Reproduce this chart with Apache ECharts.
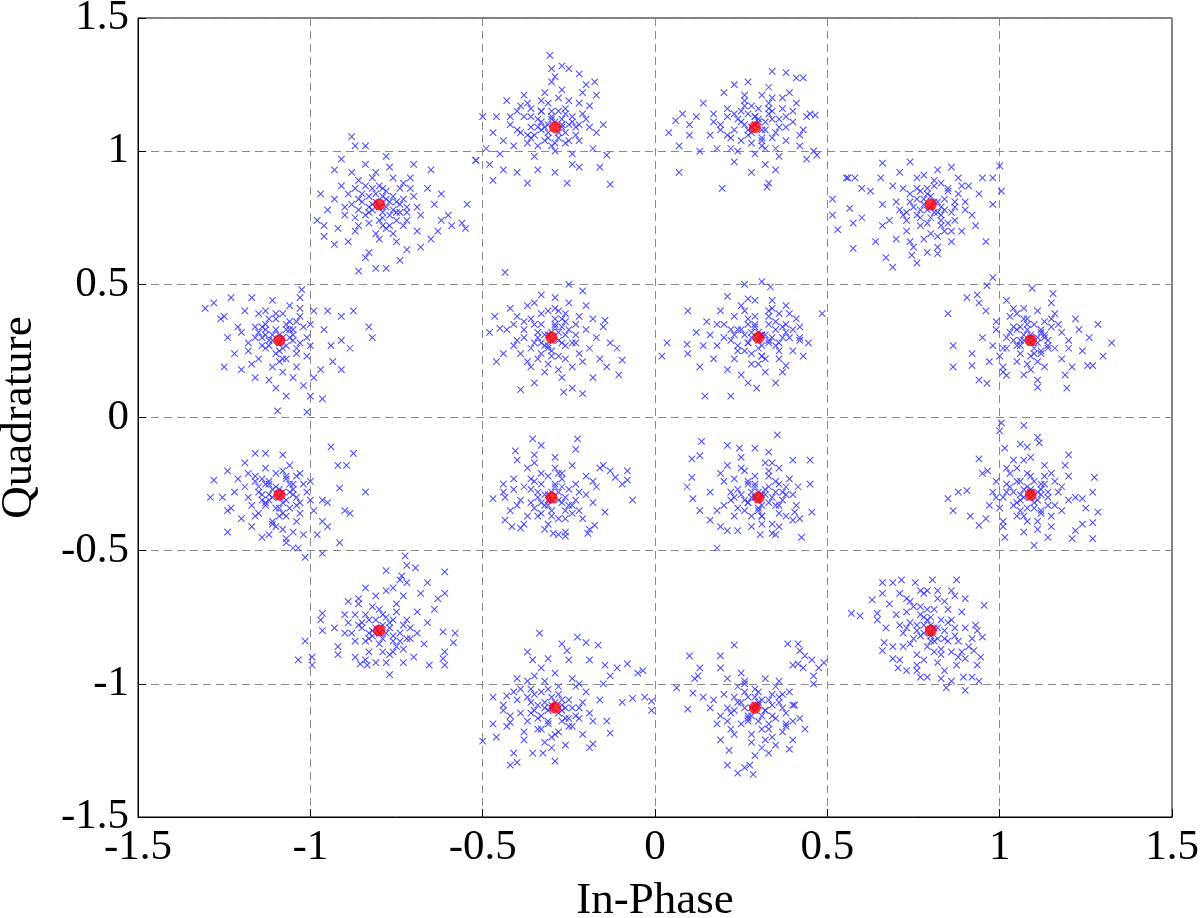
<!DOCTYPE html>
<html>
<head>
<meta charset="utf-8">
<script src="https://cdn.jsdelivr.net/npm/echarts@6/dist/echarts.min.js"></script>
<style>
html,body{margin:0;padding:0;background:#fff;}
#chart{width:1200px;height:918px;}
</style>
</head>
<body>
<div id="chart"></div>
<script>
// Ideal constellation points (red dots)
const idealPoints = [
  [-0.80,0.80],[-0.29,1.09],[0.29,1.09],[0.80,0.80],
  [-1.09,0.29],[-0.30,0.30],[0.30,0.30],[1.09,0.29],
  [-1.09,-0.29],[-0.30,-0.30],[0.30,-0.30],[1.09,-0.29],
  [-0.80,-0.80],[-0.29,-1.09],[0.29,-1.09],[0.80,-0.80]
];

// Received noisy samples, one flat [x,y,x,y,...] list per cluster
const clusterUL = [-0.79,0.83,-0.82,0.78,-0.75,0.81,-0.85,0.84,-0.77,0.76,-0.72,0.79,-0.88,0.80,-0.80,0.87,-0.83,0.73,-0.74,0.86,-0.90,0.76,-0.86,0.89,-0.70,0.83,-0.78,0.71,-0.93,0.82,-0.81,0.92,-0.76,0.90,-0.68,0.76,-0.87,0.70,-0.73,0.72,-0.84,0.95,-0.77,0.94,-0.91,0.87,-0.95,0.78,-0.80,0.67,-0.71,0.90,-0.66,0.86,-0.89,0.66,-0.75,0.66,-0.83,0.62,-0.96,0.72,-0.69,0.70,-0.64,0.80,-0.86,0.78,-0.79,0.75,-0.82,0.86,-0.74,0.77,-0.88,0.92,-0.93,0.93,-0.70,0.95,-0.65,0.93,
  -0.62,0.74,-0.59,0.72,-0.56,0.73,-0.55,0.71,-0.60,0.76,-0.63,0.70,-0.545,0.80,-0.52,0.965,-0.98,0.74,-0.96,0.68,-0.93,0.65,-0.88,1.055,-0.87,1.02,-0.84,1.02,-0.91,0.97,-0.78,0.98,-0.86,0.55,-0.81,0.56,-0.78,0.56,-0.84,0.60,-0.74,0.59,-0.72,0.63,-0.68,0.64,-0.65,0.67,-0.62,0.84,-0.97,0.84,
  -0.81,0.81,-0.78,0.79,-0.83,0.77,-0.76,0.83,-0.80,0.74,-0.85,0.81,-0.74,0.80,-0.79,0.86,-0.87,0.75,-0.72,0.74,-0.82,0.90,-0.77,0.72,-0.84,0.87,-0.71,0.86,-0.89,0.84,-0.75,0.77,-0.86,0.72,-0.78,0.82,-0.81,0.69,-0.73,0.88,-0.90,0.79,-0.69,0.79,-0.83,0.83,-0.76,0.69,-0.92,0.71,
  -0.80,0.79,-0.77,0.81,-0.82,0.80,-0.79,0.77,-0.84,0.76,-0.76,0.78,-0.81,0.84,-0.78,0.85,-0.86,0.82,-0.73,0.82,-0.83,0.79,-0.79,0.72,-0.75,0.74,-0.87,0.86,-0.72,0.77];
const clusterTL = [-0.30,1.12,-0.33,1.08,-0.26,1.14,-0.36,1.13,-0.28,1.05,-0.23,1.09,-0.39,1.07,-0.31,1.18,-0.34,1.02,-0.25,1.19,-0.42,1.10,-0.20,1.12,-0.37,1.18,-0.29,1.00,-0.44,1.04,-0.22,1.04,-0.32,1.22,-0.27,1.23,-0.40,1.15,-0.19,1.17,-0.45,0.99,-0.35,0.98,-0.24,0.99,-0.41,1.02,-0.38,1.21,-0.17,1.07,-0.47,1.07,-0.33,1.15,-0.27,1.09,-0.21,1.22,-0.43,1.19,-0.18,1.01,-0.30,1.26,-0.49,1.01,-0.36,1.05,-0.26,1.03,-0.15,1.10,
  -0.305,1.36,-0.30,1.31,-0.27,1.32,-0.25,1.31,-0.29,1.28,-0.175,1.26,-0.20,1.25,-0.22,1.29,-0.52,0.965,-0.50,1.13,-0.47,0.89,-0.44,0.93,-0.37,0.88,-0.34,0.93,-0.255,0.88,-0.29,0.92,-0.13,0.875,-0.16,0.94,-0.14,0.985,-0.48,0.95,-0.40,0.92,-0.22,0.94,-0.17,1.21,-0.46,1.13,-0.24,0.95,
  -0.31,1.10,-0.28,1.07,-0.33,1.11,-0.25,1.10,-0.30,1.15,-0.35,1.06,-0.26,1.16,-0.32,1.04,-0.23,1.06,-0.38,1.13,-0.28,1.20,-0.36,1.16,-0.21,1.14,-0.34,1.09,-0.40,1.08,-0.24,1.13,-0.29,1.03,-0.37,1.03,-0.19,1.09,-0.27,1.12,-0.33,1.19,-0.42,1.13,-0.22,1.18,-0.39,1.17,-0.31,1.07,
  -0.29,1.11,-0.27,1.10,-0.32,1.09,-0.30,1.13,-0.26,1.07,-0.34,1.12,-0.31,1.05,-0.24,1.11,-0.36,1.09,-0.28,1.15,-0.33,1.15,-0.25,1.04,-0.37,1.06,-0.22,1.10,-0.30,1.02];
const clusterTR = [0.30,1.12,0.27,1.08,0.33,1.14,0.24,1.12,0.35,1.07,0.28,1.17,0.22,1.05,0.37,1.16,0.31,1.02,0.19,1.10,0.40,1.11,0.26,1.21,0.34,1.20,0.21,1.16,0.38,1.04,0.17,1.14,0.29,0.99,0.43,1.08,0.33,1.24,0.24,1.00,0.41,1.18,0.16,1.06,0.36,0.98,0.27,1.26,0.20,1.22,0.44,1.13,0.31,1.05,0.25,1.15,0.32,0.95,0.39,1.22,0.14,1.18,0.23,0.96,0.42,1.02,0.29,1.13,0.18,1.01,
  0.04,1.07,0.06,1.115,0.07,1.02,0.10,1.10,0.10,1.06,0.12,1.13,0.08,1.14,0.07,0.92,0.13,1.00,0.34,1.30,0.38,1.295,0.41,1.275,0.43,1.275,0.195,0.86,0.325,0.865,0.33,0.88,0.47,0.985,0.46,1.00,0.465,1.135,0.45,1.14,0.23,1.25,0.28,0.92,0.35,0.93,0.44,0.97,
  0.29,1.10,0.32,1.11,0.26,1.10,0.31,1.08,0.27,1.14,0.34,1.05,0.23,1.08,0.36,1.12,0.30,1.16,0.25,1.04,0.38,1.09,0.21,1.13,0.33,1.18,0.28,1.03,0.40,1.15,0.19,1.08,0.35,1.01,0.26,1.19,0.42,1.06,0.31,1.21,0.22,1.01,0.37,1.20,0.17,1.11,0.28,1.07,0.34,1.15,
  0.30,1.11,0.28,1.09,0.32,1.08,0.29,1.13,0.25,1.11,0.34,1.12,0.27,1.06,0.33,1.16,0.31,1.04,0.23,1.14,0.36,1.09,0.26,1.17,0.38,1.13,0.21,1.06,0.32,1.01];
const clusterUR = [0.80,0.83,0.77,0.78,0.83,0.79,0.74,0.84,0.85,0.86,0.79,0.73,0.72,0.76,0.87,0.74,0.81,0.89,0.76,0.90,0.90,0.81,0.70,0.81,0.84,0.70,0.78,0.67,0.73,0.70,0.88,0.90,0.92,0.76,0.69,0.87,0.82,0.93,0.75,0.64,0.86,0.66,0.91,0.87,0.71,0.92,0.94,0.84,0.79,0.62,0.68,0.74,0.89,0.70,0.74,0.96,0.83,0.76,0.77,0.85,0.93,0.72,0.70,0.67,0.86,0.94,0.80,0.69,0.66,0.80,
  0.515,0.82,0.515,0.76,0.53,0.705,0.565,0.785,0.575,0.73,0.575,0.635,0.60,0.75,0.66,0.72,0.56,0.90,0.58,0.90,0.60,0.86,0.625,0.85,0.655,0.90,0.66,0.955,1.00,0.945,1.005,0.85,0.98,0.80,0.98,0.90,0.95,0.90,0.67,0.60,0.69,0.565,0.76,0.58,0.745,0.61,0.82,0.615,0.82,0.64,0.555,0.90,0.96,0.66,0.64,0.66,
  0.81,0.81,0.78,0.80,0.82,0.77,0.76,0.82,0.80,0.75,0.84,0.82,0.75,0.79,0.79,0.86,0.86,0.77,0.73,0.74,0.83,0.88,0.77,0.72,0.88,0.84,0.72,0.86,0.85,0.73,0.78,0.91,0.90,0.78,0.71,0.78,0.82,0.68,0.76,0.86,0.89,0.87,0.74,0.66,0.83,0.72,0.79,0.78,0.87,0.81,
  0.80,0.79,0.82,0.81,0.78,0.82,0.81,0.77,0.76,0.76,0.84,0.78,0.79,0.84,0.85,0.85,0.74,0.81,0.83,0.74,0.77,0.75,0.87,0.79,0.81,0.87,0.73,0.77,0.86,0.70];
const clusterML = [-1.09,0.31,-1.12,0.27,-1.06,0.33,-1.15,0.32,-1.04,0.26,-1.10,0.37,-1.18,0.28,-1.07,0.22,-1.13,0.40,-1.01,0.30,-1.21,0.34,-1.15,0.22,-1.03,0.38,-1.08,0.17,-1.19,0.40,-1.24,0.30,-1.11,0.44,-1.04,0.19,-1.16,0.15,-1.00,0.35,-1.22,0.24,-1.06,0.42,-1.13,0.35,-1.09,0.25,-1.02,0.12,-1.10,0.11,-1.17,0.45,-1.05,0.29,-1.20,0.18,-1.01,0.23,-1.14,0.30,-1.07,0.08,-1.03,0.45,-1.25,0.38,
  -0.99,0.40,-0.95,0.40,-0.91,0.38,-0.875,0.40,-0.83,0.34,-0.82,0.30,-0.91,0.29,-0.885,0.26,-0.935,0.21,-0.91,0.18,-0.965,0.07,-0.97,0.18,-0.99,0.15,-1.025,0.48,-1.095,0.025,-1.01,0.02,-1.305,0.41,-1.25,0.19,-1.26,0.37,-1.28,0.43,-1.23,0.45,-0.96,0.33,-0.94,0.27,-1.00,0.08,
  -1.08,0.30,-1.11,0.29,-1.07,0.27,-1.10,0.33,-1.13,0.26,-1.05,0.31,-1.12,0.37,-1.06,0.36,-1.16,0.30,-1.04,0.24,-1.09,0.21,-1.14,0.34,-1.02,0.34,-1.18,0.25,-1.08,0.39,-1.11,0.19,-1.00,0.27,-1.15,0.39,-1.05,0.15,-1.20,0.32,-1.12,0.14,-1.03,0.41,-1.17,0.20,-1.07,0.33,-1.13,0.31,
  -1.09,0.28,-1.06,0.30,-1.11,0.31,-1.08,0.26,-1.12,0.29,-1.05,0.33,-1.10,0.24,-1.07,0.35,-1.14,0.27,-1.03,0.28,-1.13,0.33,-1.08,0.22,-1.16,0.34,-1.04,0.36,-1.10,0.39];
const clusterIUL = [-0.30,0.32,-0.33,0.28,-0.27,0.34,-0.35,0.35,-0.26,0.27,-0.31,0.40,-0.38,0.30,-0.23,0.31,-0.34,0.22,-0.28,0.23,-0.40,0.38,-0.22,0.38,-0.37,0.42,-0.25,0.43,-0.41,0.27,-0.19,0.26,-0.32,0.17,-0.29,0.45,-0.36,0.19,-0.21,0.21,-0.43,0.33,-0.17,0.30,-0.27,0.15,-0.39,0.24,-0.24,0.19,-0.33,0.46,-0.20,0.42,-0.35,0.13,-0.29,0.37,-0.31,0.26,-0.16,0.22,-0.42,0.41,-0.26,0.39,-0.38,0.36,
  -0.435,0.545,-0.25,0.50,-0.21,0.475,-0.11,0.26,-0.095,0.215,-0.105,0.16,-0.145,0.365,-0.15,0.34,-0.39,0.105,-0.265,0.095,-0.21,0.09,-0.24,0.11,-0.48,0.32,-0.465,0.38,-0.45,0.335,-0.44,0.24,-0.13,0.28,-0.14,0.19,-0.18,0.15,-0.46,0.21,
  -0.31,0.31,-0.28,0.29,-0.32,0.27,-0.29,0.34,-0.26,0.31,-0.34,0.32,-0.30,0.25,-0.27,0.37,-0.36,0.26,-0.24,0.28,-0.33,0.39,-0.38,0.33,-0.23,0.35,-0.31,0.20,-0.35,0.43,-0.20,0.33,-0.40,0.29,-0.26,0.22,-0.29,0.41,-0.37,0.21,-0.22,0.24,-0.33,0.35,-0.28,0.18,-0.18,0.37,-0.41,0.35,
  -0.30,0.29,-0.32,0.31,-0.28,0.32,-0.31,0.27,-0.27,0.28,-0.34,0.30,-0.29,0.35,-0.25,0.33,-0.35,0.28,-0.30,0.23,-0.26,0.36,-0.36,0.37,-0.23,0.28,-0.33,0.24,-0.28,0.40];
const clusterIUR = [0.30,0.32,0.27,0.28,0.33,0.35,0.24,0.33,0.35,0.27,0.29,0.38,0.22,0.29,0.37,0.34,0.31,0.23,0.26,0.40,0.39,0.30,0.20,0.35,0.34,0.41,0.28,0.20,0.41,0.37,0.18,0.27,0.32,0.17,0.36,0.22,0.23,0.22,0.25,0.16,0.38,0.42,0.19,0.40,0.33,0.29,0.16,0.31,0.40,0.25,0.29,0.44,0.21,0.18,0.35,0.13,0.27,0.35,0.31,0.31,0.24,0.25,0.17,0.22,0.39,0.39,
  0.02,0.23,0.035,0.28,0.093,0.275,0.095,0.24,0.095,0.40,0.12,0.32,0.14,0.27,0.26,0.50,0.31,0.51,0.335,0.49,0.21,0.455,0.27,0.445,0.485,0.39,0.445,0.28,0.43,0.23,0.42,0.34,0.42,0.30,0.145,0.08,0.22,0.08,0.295,0.11,0.27,0.13,0.37,0.17,0.38,0.195,0.13,0.19,0.15,0.36,
  0.31,0.31,0.28,0.30,0.33,0.28,0.29,0.34,0.26,0.31,0.35,0.33,0.30,0.26,0.27,0.37,0.37,0.30,0.24,0.27,0.33,0.38,0.22,0.33,0.38,0.35,0.30,0.20,0.25,0.42,0.36,0.25,0.20,0.30,0.34,0.44,0.28,0.24,0.40,0.33,0.23,0.38,0.32,0.22,0.42,0.29,0.18,0.35,0.36,0.39,
  0.30,0.29,0.32,0.31,0.28,0.32,0.31,0.27,0.27,0.28,0.34,0.30,0.29,0.35,0.25,0.33,0.35,0.36,0.31,0.23,0.26,0.25,0.36,0.28,0.23,0.31,0.33,0.40,0.38,0.32];
const clusterMR = [1.09,0.31,1.06,0.27,1.12,0.33,1.03,0.32,1.14,0.26,1.08,0.37,1.01,0.26,1.17,0.35,1.05,0.21,1.11,0.40,0.99,0.36,1.20,0.29,1.13,0.19,1.04,0.41,1.18,0.22,0.97,0.21,1.07,0.16,1.22,0.37,1.10,0.24,0.95,0.30,1.15,0.43,1.01,0.17,1.19,0.16,0.96,0.40,1.13,0.30,1.06,0.34,1.24,0.25,1.02,0.44,1.09,0.18,0.98,0.27,1.16,0.39,1.11,0.14,
  0.98,0.525,0.963,0.495,1.094,0.485,1.155,0.465,0.85,0.39,0.865,0.27,0.865,0.19,0.92,0.24,0.92,0.195,0.905,0.45,0.935,0.46,0.94,0.43,1.285,0.35,1.325,0.28,1.30,0.23,1.27,0.195,1.255,0.195,1.26,0.30,0.94,0.14,0.963,0.128,1.11,0.113,1.195,0.11,1.02,0.158,1.23,0.33,1.21,0.19,
  1.09,0.30,1.07,0.29,1.11,0.28,1.08,0.33,1.12,0.32,1.05,0.27,1.10,0.35,1.04,0.34,1.14,0.29,1.06,0.24,1.13,0.36,1.02,0.30,1.16,0.26,1.08,0.20,1.03,0.38,1.18,0.32,1.00,0.23,1.11,0.21,1.15,0.34,1.05,0.39,1.20,0.26,0.99,0.33,1.07,0.41,1.12,0.24,1.01,0.19,
  1.09,0.28,1.11,0.30,1.07,0.31,1.10,0.26,1.06,0.29,1.13,0.31,1.08,0.35,1.12,0.25,1.05,0.33,1.14,0.27,1.09,0.23,1.04,0.29,1.15,0.37,1.07,0.37,1.02,0.26];
const clusterMLb = [-1.09,-0.27,-1.12,-0.31,-1.06,-0.25,-1.15,-0.26,-1.04,-0.33,-1.10,-0.21,-1.18,-0.30,-1.07,-0.37,-1.13,-0.19,-1.01,-0.28,-1.21,-0.23,-1.15,-0.36,-1.03,-0.21,-1.08,-0.42,-1.19,-0.17,-1.23,-0.34,-1.11,-0.40,-1.04,-0.39,-1.17,-0.41,-1.00,-0.24,-1.22,-0.28,-1.06,-0.18,-1.13,-0.33,-1.09,-0.34,-1.02,-0.44,-1.14,-0.45,-1.20,-0.38,-1.05,-0.29,-1.16,-0.22,-0.99,-0.35,-1.12,-0.25,-1.07,-0.47,
  -0.94,-0.11,-0.875,-0.135,-0.84,-0.28,-0.90,-0.35,-0.885,-0.36,-0.915,-0.265,-0.92,-0.18,-0.895,-0.18,-0.965,-0.31,-0.95,-0.32,-0.965,-0.39,-0.95,-0.41,-0.98,-0.44,-0.965,-0.51,-0.915,-0.47,-1.015,-0.525,-1.29,-0.30,-1.28,-0.235,-1.255,-0.30,-1.24,-0.35,-1.24,-0.43,-1.24,-0.20,-1.07,-0.455,-1.05,-0.49,-1.035,-0.49,-1.16,-0.135,-1.13,-0.135,-1.08,-0.14,
  -1.08,-0.28,-1.11,-0.30,-1.07,-0.31,-1.10,-0.26,-1.13,-0.32,-1.05,-0.27,-1.12,-0.24,-1.06,-0.34,-1.15,-0.28,-1.04,-0.30,-1.09,-0.37,-1.14,-0.23,-1.02,-0.25,-1.17,-0.33,-1.08,-0.20,-1.11,-0.39,-1.00,-0.31,-1.16,-0.37,-1.05,-0.43,-1.19,-0.26,-1.12,-0.44,-1.03,-0.36,-1.18,-0.21,-1.07,-0.23,-1.14,-0.29,
  -1.09,-0.30,-1.06,-0.28,-1.11,-0.27,-1.08,-0.32,-1.12,-0.29,-1.05,-0.25,-1.10,-0.34,-1.07,-0.22,-1.14,-0.31,-1.03,-0.32,-1.13,-0.25,-1.08,-0.36,-1.16,-0.24,-1.04,-0.22,-1.10,-0.41];
const clusterILL = [-0.30,-0.28,-0.33,-0.32,-0.27,-0.26,-0.36,-0.27,-0.25,-0.33,-0.31,-0.22,-0.39,-0.31,-0.22,-0.28,-0.34,-0.37,-0.28,-0.38,-0.41,-0.23,-0.20,-0.22,-0.37,-0.19,-0.24,-0.18,-0.42,-0.35,-0.18,-0.32,-0.32,-0.42,-0.29,-0.15,-0.38,-0.40,-0.21,-0.38,-0.44,-0.28,-0.17,-0.26,-0.26,-0.43,-0.35,-0.14,-0.23,-0.12,-0.40,-0.16,-0.31,-0.31,-0.27,-0.21,-0.15,-0.18,-0.35,-0.24,-0.24,-0.36,-0.19,-0.42,
  -0.16,-0.19,-0.13,-0.20,-0.115,-0.225,-0.08,-0.20,-0.08,-0.235,-0.095,-0.25,-0.065,-0.31,-0.355,-0.08,-0.225,-0.08,-0.33,-0.105,-0.405,-0.125,-0.47,-0.305,-0.435,-0.30,-0.44,-0.25,-0.435,-0.385,-0.415,-0.41,-0.39,-0.415,-0.295,-0.435,-0.26,-0.445,-0.195,-0.435,-0.175,-0.405,-0.145,-0.355,
  -0.31,-0.29,-0.28,-0.31,-0.32,-0.33,-0.29,-0.26,-0.26,-0.30,-0.34,-0.28,-0.30,-0.35,-0.27,-0.23,-0.36,-0.32,-0.24,-0.33,-0.33,-0.21,-0.38,-0.26,-0.23,-0.25,-0.31,-0.40,-0.35,-0.17,-0.20,-0.29,-0.40,-0.33,-0.26,-0.38,-0.29,-0.19,-0.37,-0.37,-0.22,-0.35,-0.33,-0.25,-0.28,-0.44,-0.18,-0.24,-0.41,-0.27,
  -0.30,-0.31,-0.32,-0.29,-0.28,-0.28,-0.31,-0.33,-0.27,-0.32,-0.34,-0.30,-0.29,-0.25,-0.25,-0.27,-0.35,-0.34,-0.30,-0.37,-0.26,-0.35,-0.36,-0.23,-0.23,-0.31,-0.33,-0.36,-0.28,-0.21];
const clusterILR = [0.30,-0.28,0.27,-0.32,0.33,-0.26,0.24,-0.27,0.35,-0.33,0.29,-0.22,0.22,-0.31,0.37,-0.28,0.31,-0.37,0.26,-0.20,0.39,-0.23,0.20,-0.24,0.34,-0.40,0.28,-0.41,0.41,-0.33,0.18,-0.35,0.32,-0.17,0.25,-0.15,0.36,-0.19,0.21,-0.18,0.38,-0.37,0.16,-0.28,0.30,-0.34,0.33,-0.13,0.23,-0.37,0.40,-0.16,0.27,-0.25,0.35,-0.44,0.19,-0.41,0.29,-0.30,0.36,-0.25,
  0.355,-0.065,0.135,-0.09,0.107,-0.155,0.13,-0.143,0.21,-0.105,0.245,-0.115,0.29,-0.115,0.093,-0.26,0.11,-0.305,0.13,-0.35,0.107,-0.225,0.16,-0.385,0.45,-0.16,0.45,-0.25,0.455,-0.355,0.425,-0.45,0.405,-0.355,0.415,-0.26,0.40,-0.385,0.18,-0.49,0.21,-0.425,0.24,-0.425,0.305,-0.44,0.34,-0.435,
  0.31,-0.29,0.28,-0.30,0.33,-0.32,0.29,-0.26,0.26,-0.31,0.35,-0.28,0.30,-0.35,0.27,-0.24,0.37,-0.31,0.24,-0.34,0.33,-0.22,0.22,-0.28,0.38,-0.26,0.31,-0.40,0.25,-0.19,0.36,-0.36,0.20,-0.33,0.34,-0.17,0.28,-0.37,0.40,-0.29,0.23,-0.23,0.32,-0.27,0.42,-0.38,0.19,-0.21,0.36,-0.41,
  0.30,-0.31,0.32,-0.29,0.28,-0.28,0.31,-0.33,0.27,-0.32,0.34,-0.30,0.29,-0.25,0.25,-0.29,0.35,-0.24,0.31,-0.37,0.26,-0.35,0.36,-0.33,0.23,-0.30,0.33,-0.20,0.38,-0.29];
const clusterMRb = [1.09,-0.27,1.06,-0.31,1.12,-0.25,1.03,-0.26,1.14,-0.33,1.08,-0.21,1.01,-0.30,1.17,-0.28,1.05,-0.37,1.11,-0.39,0.99,-0.24,1.20,-0.22,1.13,-0.18,1.04,-0.16,1.18,-0.35,0.97,-0.33,1.07,-0.43,1.22,-0.30,1.10,-0.34,0.95,-0.21,1.15,-0.41,1.01,-0.41,1.19,-0.18,0.96,-0.38,1.12,-0.29,1.06,-0.24,1.24,-0.40,1.02,-0.19,1.09,-0.15,0.98,-0.28,1.16,-0.24,1.14,-0.45,
  1.005,-0.02,1.07,-0.03,1.00,-0.05,1.11,-0.075,1.115,-0.095,1.06,-0.10,1.08,-0.11,1.015,-0.115,1.20,-0.14,0.85,-0.305,0.865,-0.35,0.88,-0.28,0.905,-0.275,0.915,-0.37,0.94,-0.405,0.965,-0.20,0.94,-0.155,1.275,-0.225,1.285,-0.355,1.27,-0.395,1.25,-0.34,1.27,-0.28,1.24,-0.305,1.015,-0.45,1.10,-0.48,1.21,-0.455,1.27,-0.455,1.22,-0.425,
  1.09,-0.28,1.07,-0.30,1.11,-0.31,1.08,-0.26,1.12,-0.27,1.05,-0.32,1.10,-0.24,1.04,-0.28,1.14,-0.30,1.06,-0.35,1.13,-0.22,1.02,-0.25,1.16,-0.33,1.08,-0.39,1.03,-0.21,1.18,-0.26,1.00,-0.34,1.11,-0.42,1.15,-0.37,1.05,-0.19,1.20,-0.31,0.99,-0.30,1.07,-0.16,1.12,-0.35,1.01,-0.39,
  1.09,-0.30,1.11,-0.28,1.07,-0.27,1.10,-0.32,1.06,-0.29,1.13,-0.25,1.08,-0.34,1.12,-0.36,1.05,-0.24,1.14,-0.28,1.09,-0.22,1.04,-0.33,1.15,-0.21,1.07,-0.37,1.02,-0.28];
const clusterLL = [-0.79,-0.78,-0.82,-0.82,-0.76,-0.76,-0.85,-0.77,-0.74,-0.84,-0.80,-0.72,-0.88,-0.81,-0.71,-0.79,-0.83,-0.88,-0.77,-0.89,-0.90,-0.74,-0.69,-0.73,-0.86,-0.68,-0.73,-0.67,-0.92,-0.86,-0.67,-0.85,-0.81,-0.92,-0.78,-0.65,-0.87,-0.90,-0.70,-0.90,-0.93,-0.79,-0.66,-0.77,-0.75,-0.70,-0.84,-0.64,-0.72,-0.62,-0.89,-0.69,-0.80,-0.81,-0.76,-0.84,-0.68,-0.66,-0.64,-0.72,-0.84,-0.74,-0.73,-0.92,
  -0.725,-0.52,-0.72,-0.555,-0.695,-0.565,-0.78,-0.575,-0.61,-0.58,-0.735,-0.595,-0.74,-0.61,-0.61,-0.66,-0.63,-0.68,-0.66,-0.62,-0.58,-0.81,-0.585,-0.845,-0.615,-0.805,-0.61,-0.88,-0.61,-0.93,-0.655,-0.93,-0.615,-0.905,-1.015,-0.84,-1.035,-0.91,-0.995,-0.90,-0.995,-0.93,-0.965,-0.80,-0.97,-0.76,-0.965,-0.735,-0.77,-0.965,-0.855,-0.925,-0.835,-0.93,
  -0.81,-0.79,-0.78,-0.81,-0.83,-0.83,-0.77,-0.77,-0.80,-0.85,-0.85,-0.79,-0.74,-0.81,-0.79,-0.74,-0.87,-0.84,-0.72,-0.76,-0.82,-0.71,-0.76,-0.88,-0.84,-0.91,-0.71,-0.83,-0.89,-0.77,-0.75,-0.73,-0.86,-0.70,-0.78,-0.92,-0.81,-0.67,-0.73,-0.87,-0.90,-0.81,-0.69,-0.81,-0.83,-0.76,-0.76,-0.64,-0.92,-0.89,
  -0.80,-0.81,-0.77,-0.79,-0.82,-0.80,-0.79,-0.83,-0.84,-0.84,-0.76,-0.82,-0.81,-0.76,-0.78,-0.75,-0.86,-0.78,-0.73,-0.78,-0.83,-0.81,-0.79,-0.88,-0.75,-0.86,-0.87,-0.74,-0.72,-0.83];
const clusterBL = [-0.30,-1.08,-0.33,-1.12,-0.27,-1.06,-0.36,-1.07,-0.25,-1.13,-0.31,-1.02,-0.39,-1.11,-0.22,-1.09,-0.34,-1.17,-0.28,-1.18,-0.41,-1.03,-0.20,-1.03,-0.37,-0.99,-0.24,-0.98,-0.43,-1.16,-0.18,-1.14,-0.32,-1.22,-0.29,-0.96,-0.38,-1.21,-0.21,-1.19,-0.44,-1.08,-0.16,-1.06,-0.26,-1.23,-0.35,-0.97,-0.23,-1.01,-0.40,-0.98,-0.31,-1.10,-0.27,-1.14,-0.15,-1.00,-0.35,-1.04,-0.46,-1.20,-0.19,-1.24,
  -0.335,-0.81,-0.225,-0.825,-0.20,-0.845,-0.27,-0.85,-0.165,-0.855,-0.255,-0.875,-0.37,-0.88,-0.355,-0.91,-0.31,-0.905,-0.25,-0.91,-0.33,-0.94,-0.19,-0.91,-0.145,-0.93,-0.11,-0.94,-0.08,-0.925,-0.05,-0.96,-0.035,-0.95,-0.065,-1.055,-0.03,-1.05,-0.01,-1.065,-0.01,-1.10,-0.13,-0.97,-0.095,-1.07,-0.14,-1.14,-0.13,-1.185,-0.50,-1.215,-0.47,-1.15,-0.47,-1.05,-0.44,-1.10,-0.43,-1.045,-0.42,-1.145,-0.42,-1.305,-0.40,-1.295,-0.355,-1.26,-0.325,-1.26,-0.29,-1.29,-0.41,-1.26,-0.18,-1.225,
  -0.30,-1.09,-0.28,-1.11,-0.32,-1.07,-0.27,-1.08,-0.31,-1.14,-0.35,-1.10,-0.25,-1.06,-0.33,-1.03,-0.23,-1.12,-0.37,-1.14,-0.29,-1.19,-0.36,-1.02,-0.21,-1.07,-0.34,-1.13,-0.40,-1.06,-0.24,-1.16,-0.28,-1.01,-0.38,-1.18,-0.19,-1.11,-0.26,-1.09,-0.32,-0.99,-0.42,-1.12,-0.22,-1.00,-0.39,-1.02,-0.30,-1.24,
  -0.29,-1.07,-0.27,-1.10,-0.32,-1.09,-0.30,-1.05,-0.26,-1.13,-0.34,-1.08,-0.31,-1.15,-0.24,-1.09,-0.36,-1.11,-0.28,-1.04,-0.33,-1.17,-0.25,-1.16,-0.37,-1.05,-0.22,-1.13,-0.30,-1.20];
const clusterBR = [0.30,-1.08,0.27,-1.12,0.33,-1.06,0.24,-1.07,0.35,-1.13,0.29,-1.02,0.22,-1.11,0.37,-1.09,0.31,-1.17,0.26,-0.99,0.39,-1.03,0.20,-1.04,0.34,-1.20,0.28,-1.22,0.38,-1.15,0.18,-1.15,0.32,-0.98,0.25,-0.96,0.36,-0.99,0.21,-0.98,0.40,-1.21,0.16,-1.09,0.30,-1.14,0.33,-1.26,0.23,-1.19,0.37,-1.04,0.27,-1.05,0.35,-1.23,0.19,-1.21,0.29,-1.10,0.24,-1.01,
  0.385,-0.85,0.415,-0.85,0.42,-0.875,0.435,-0.895,0.455,-0.91,0.475,-0.94,0.415,-0.925,0.40,-0.93,0.49,-0.92,0.46,-0.97,0.46,-1.0,0.43,-0.94,0.10,-0.895,0.19,-0.895,0.23,-0.855,0.19,-0.94,0.13,-0.94,0.125,-0.97,0.115,-0.98,0.063,-1.015,0.095,-1.095,0.11,-1.035,0.14,-1.05,0.21,-1.305,0.24,-1.335,0.26,-1.315,0.285,-1.34,0.29,-1.27,0.275,-1.305,0.215,-1.25,0.435,-1.17,0.39,-1.245,0.405,-1.08,0.40,-1.14,
  0.29,-1.08,0.32,-1.10,0.26,-1.09,0.31,-1.06,0.27,-1.13,0.34,-1.12,0.23,-1.05,0.36,-1.07,0.30,-1.03,0.25,-1.15,0.38,-1.11,0.21,-1.09,0.33,-1.17,0.28,-1.19,0.40,-1.08,0.19,-1.12,0.35,-1.01,0.26,-1.00,0.42,-1.13,0.31,-1.24,0.22,-1.17,0.37,-1.18,0.17,-1.06,0.28,-1.12,0.34,-1.04,
  0.30,-1.07,0.28,-1.09,0.32,-1.10,0.29,-1.05,0.25,-1.07,0.34,-1.08,0.27,-1.14,0.33,-1.15,0.31,-1.12,0.23,-1.10,0.36,-1.05,0.26,-1.03,0.38,-1.16,0.21,-1.14,0.32,-1.21];
const clusterLR = [0.80,-0.78,0.77,-0.82,0.83,-0.76,0.74,-0.77,0.85,-0.84,0.79,-0.72,0.72,-0.81,0.87,-0.79,0.81,-0.88,0.76,-0.89,0.89,-0.73,0.70,-0.74,0.84,-0.69,0.73,-0.68,0.91,-0.86,0.69,-0.86,0.82,-0.92,0.78,-0.66,0.88,-0.90,0.71,-0.91,0.93,-0.78,0.67,-0.79,0.75,-0.71,0.86,-0.65,0.80,-0.84,0.76,-0.93,0.90,-0.68,0.84,-0.95,0.78,-0.75,0.73,-0.95,0.68,-0.70,
  0.66,-0.62,0.69,-0.62,0.715,-0.61,0.755,-0.62,0.805,-0.61,0.875,-0.61,0.77,-0.65,0.79,-0.65,0.82,-0.65,0.66,-0.66,0.63,-0.685,0.71,-0.66,0.57,-0.735,0.595,-0.745,0.645,-0.735,0.645,-0.76,0.665,-0.845,0.66,-0.875,0.69,-0.905,0.705,-0.94,0.955,-0.705,0.95,-0.825,0.935,-0.80,0.945,-0.90,0.925,-0.875,0.935,-0.93,0.90,-0.905,0.77,-0.975,0.79,-0.975,0.83,-0.98,0.86,-0.99,0.895,-0.975,0.92,-0.975,0.94,-0.99,0.90,-1.025,0.845,-1.015,0.875,-0.93,
  0.81,-0.79,0.78,-0.81,0.82,-0.83,0.76,-0.78,0.80,-0.75,0.84,-0.80,0.75,-0.83,0.79,-0.86,0.86,-0.76,0.73,-0.73,0.83,-0.89,0.77,-0.71,0.88,-0.84,0.72,-0.86,0.85,-0.72,0.78,-0.91,0.90,-0.79,0.71,-0.78,0.82,-0.68,0.76,-0.95,0.89,-0.88,0.74,-0.69,0.87,-0.67,0.80,-0.82,0.92,-0.83,
  0.80,-0.81,0.82,-0.79,0.78,-0.78,0.81,-0.84,0.76,-0.80,0.84,-0.83,0.79,-0.76,0.85,-0.77,0.74,-0.85,0.83,-0.87,0.77,-0.74,0.87,-0.82,0.81,-0.72,0.73,-0.79,0.86,-0.88];

const xTicks = [-1.5,-1,-0.5,0,0.5,1,1.5];
const yTicks = [-1.5,-1,-0.5,0,0.5,1,1.5];
const xLabel = 'In-Phase';
const yLabel = 'Quadrature';

function pairs(flat){ const out=[]; for(let i=0;i+1<flat.length;i+=2) out.push([flat[i],flat[i+1]]); return out; }
const received = [clusterUL,clusterTL,clusterTR,clusterUR,clusterML,clusterIUL,clusterIUR,clusterMR,
  clusterMLb,clusterILL,clusterILR,clusterMRb,clusterLL,clusterBL,clusterBR,clusterLR].flatMap(pairs);

const FONT = '"Liberation Serif","Times New Roman",serif';
const chart = echarts.init(document.getElementById('chart'), null, {renderer:'canvas'});
const gridLine = {show:true, lineStyle:{color:'#8a8a8a', width:1, type:[8,5]}};
chart.setOption({
  animation:false,
  backgroundColor:'#fff',
  grid:{left:138, right:28, top:18, bottom:101, containLabel:false, outerBoundsMode:'none',
        show:true, borderColor:'#000', borderWidth:1, backgroundColor:'#fff'},
  xAxis:{type:'value', min:xTicks[0], max:xTicks[xTicks.length-1], interval:0.5,
    name:xLabel, nameLocation:'middle', nameGap:62,
    nameTextStyle:{fontFamily:FONT, fontSize:45, color:'#000'},
    axisLine:{show:true, onZero:false, lineStyle:{color:'#000', width:1}},
    axisTick:{show:true, inside:true, length:8, lineStyle:{color:'#000'}},
    axisLabel:{fontFamily:FONT, fontSize:43, color:'#000', margin:9},
    splitLine:gridLine},
  yAxis:{type:'value', min:yTicks[0], max:yTicks[yTicks.length-1], interval:0.5,
    name:yLabel, nameLocation:'middle', nameGap:96, nameRotate:90,
    nameTextStyle:{fontFamily:FONT, fontSize:45, color:'#000'},
    axisLine:{show:true, onZero:false, lineStyle:{color:'#000', width:1}},
    axisTick:{show:true, inside:true, length:8, lineStyle:{color:'#000'}},
    axisLabel:{fontFamily:FONT, fontSize:43, color:'#000', margin:9},
    splitLine:gridLine},
  series:[
    {type:'scatter', data:received, symbol:'path://M0,0L10,10M10,0L0,10', symbolSize:6.5,
     itemStyle:{color:'rgba(0,0,0,0)', borderColor:'#3838ff', borderWidth:1.05, opacity:0.9}, z:2},
    {type:'scatter', data:idealPoints, symbol:'circle', symbolSize:12,
     itemStyle:{color:'#ff0000', borderWidth:0}, z:3}
  ]
});
</script>
</body>
</html>
